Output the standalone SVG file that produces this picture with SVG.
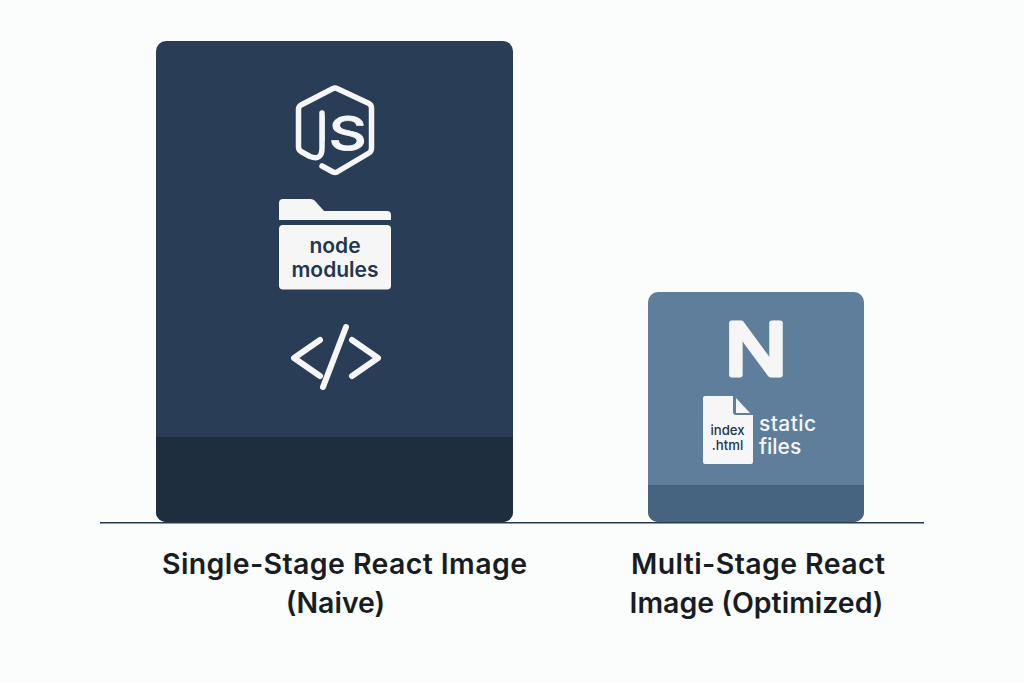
<svg xmlns="http://www.w3.org/2000/svg" width="1024" height="683" viewBox="0 0 1024 683">
<style>
.cap{font-family:Inter,"Liberation Sans",sans-serif;font-size:28.5px;font-weight:600;fill:#181d24;text-anchor:middle}
.ico{fill:none;stroke:#f6f6f6;stroke-linecap:round;stroke-linejoin:round}
.lbl{font-family:Inter,"Liberation Sans",sans-serif;font-weight:600;fill:#22374f;text-anchor:middle}
.sm{font-family:Inter,"Liberation Sans",sans-serif;font-size:13.2px;font-weight:500;fill:#22374f;text-anchor:middle}
.st{font-family:Inter,"Liberation Sans",sans-serif;font-size:21px;font-weight:500;fill:#f6f6f6}
.w{fill:#f6f6f6}
</style>
<defs>
<clipPath id="c1"><rect x="156" y="41" width="357" height="481" rx="10"/></clipPath>
<clipPath id="c2"><rect x="648" y="292" width="216" height="230" rx="10"/></clipPath>
<clipPath id="jsclip"><rect x="21.600" y="-50" width="50" height="60"/></clipPath>
</defs>
<rect width="1024" height="683" fill="#fbfcfc"/>
<g id="baseline"><line x1="100" y1="522.800" x2="924" y2="522.800" stroke="#2a3a4d" stroke-width="1.600"/></g>
<g id="single-stage">
<rect x="156" y="41" width="357" height="481" rx="10" fill="#293d56"/>
<rect x="156" y="437" width="357" height="86" fill="#1e2e3f" clip-path="url(#c1)"/>
<g id="js-icon">
<path class="ico" stroke-width="5.500" d="M322 166L333 172Q335 173 337 172L369 153Q371.500 151.500 371.500 148V108Q371.500 105 369 103.500L337 88.500Q335 87.500 333 88.500L301 105Q298.500 106.500 298.500 109V147Q298.500 150 301 151.500L310 156.500Q322 161 322 148V113"/>
<g transform="translate(295,149.500)"><text transform="scale(1.25,1)" font-family="Inter,'Liberation Sans',sans-serif" font-size="47" font-weight="500" fill="#f6f6f6" stroke="#f6f6f6" stroke-width="0.800" clip-path="url(#jsclip)">JS</text></g>
</g>
<g id="folder-icon">
<path class="w" d="M279 220V203Q279 199 283 199H310Q314 199 316 202L324 211H387Q391 211 391 215V220Z"/>
<rect class="w" x="279" y="225" width="112" height="64.500" rx="4"/>
<text class="lbl" x="335" y="253" font-size="21">node</text>
<text class="lbl" x="335" y="277" font-size="21">modules</text>
</g>
<g id="code-icon">
<path class="ico" stroke-width="6" stroke-linecap="butt" d="M320 340L294 358L320 376M352 340L378 358L352 376M346 327L323 387"/>
</g>
</g>
<g id="multi-stage">
<rect x="648" y="292" width="216" height="230" rx="10" fill="#5e7e9c"/>
<rect x="648" y="485" width="216" height="38" fill="#466380" clip-path="url(#c2)"/>
<g id="nginx-icon">
<g transform="translate(756,374.500)"><text transform="scale(1.15,1)" font-family="Inter,'Liberation Sans',sans-serif" font-size="72" font-weight="400" fill="#f6f6f6" stroke="#f6f6f6" stroke-width="5" stroke-linejoin="round" text-anchor="middle">N</text></g>
</g>
<g id="file-icon">
<path class="w" d="M705 396H733V412Q733 415 736 415H753V462Q753 464 751 464H705Q703 464 703 462V398Q703 396 705 396Z"/>
<path class="w" d="M736 398L750 413H736Z"/>
<text class="sm" x="727.500" y="435">index</text>
<text class="sm" x="727.500" y="450">.html</text>
</g>
<text class="st" x="759" y="431" textLength="57">static</text>
<text class="st" x="759" y="454">files</text>
</g>
<g id="captions">
<text class="cap" x="344.500" y="574" textLength="365">Single-Stage React Image</text>
<text class="cap" x="335.500" y="613">(Naive)</text>
<text class="cap" x="758" y="574" textLength="254">Multi-Stage React</text>
<text class="cap" x="756.500" y="613">Image (Optimized)</text>
</g>
</svg>
